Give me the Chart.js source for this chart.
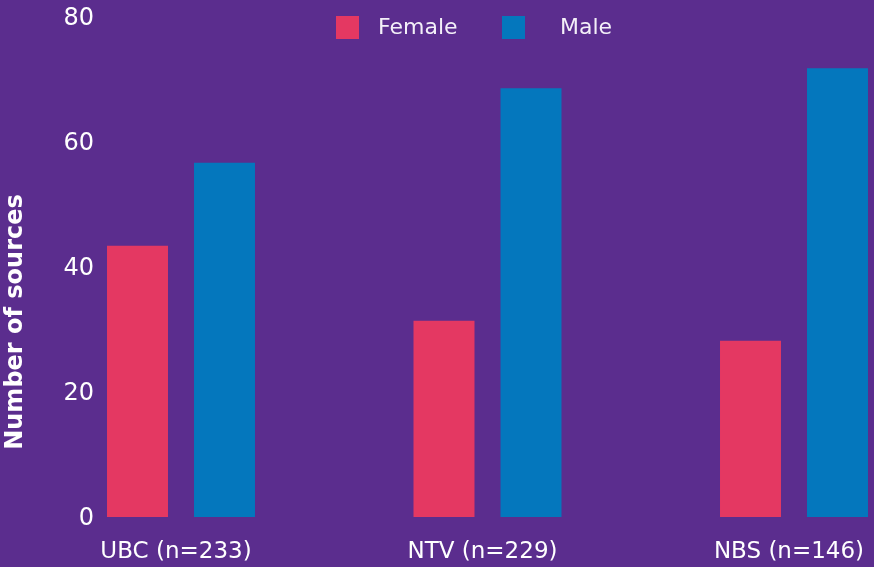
<!DOCTYPE html>
<html>
<head>
<meta charset="utf-8">
<script src="https://cdn.jsdelivr.net/npm/chart.js@4"></script>
<style>
  html, body { margin: 0; padding: 0; background: #5b2d8e; }
  #chart { display: block; }
</style>
</head>
<body>
<canvas id="chart" width="874" height="567"></canvas>
<script>
// Chart data
const categories = ['UBC (n=233)', 'NTV (n=229)', 'NBS (n=146)'];
const seriesNames = ['Female', 'Male'];
const femaleValues = [43.4, 31.4, 28.2];
const maleValues = [56.7, 68.6, 71.8];
const yTicks = [0, 20, 40, 60, 80];
const yTitle = 'Number of sources';

const colors = ['#e43862', '#0477bd'];
const textColor = '#ffffff';
const fontFamily = '"DejaVu Sans", sans-serif';

// ==============================
// Legend row at the top (drawn by hand so spacing matches)
// ==============================
const legendRow = {
  id: 'legendRow',
  afterDraw(chart) {
    const ctx = chart.ctx;
    const boxX = [336, 502];
    const textX = [378, 560];
    ctx.save();
    ctx.font = '22px ' + fontFamily;
    ctx.textBaseline = 'middle';
    chart.data.datasets.forEach((ds, i) => {
      ctx.fillStyle = ds.backgroundColor;
      ctx.fillRect(boxX[i], 16, 23, 23);
      ctx.fillStyle = '#f3eff8';
      ctx.fillText(ds.label, textX[i], 28);
    });
    ctx.restore();
  }
};

// ==============================
// Rotated y axis title
// ==============================
const sideTitle = {
  id: 'sideTitle',
  afterDraw(chart) {
    const ctx = chart.ctx;
    ctx.save();
    ctx.translate(16, 322);
    ctx.rotate(-Math.PI / 2);
    ctx.font = 'bold 24px ' + fontFamily;
    ctx.fillStyle = textColor;
    ctx.textAlign = 'center';
    ctx.textBaseline = 'middle';
    ctx.fillText(yTitle, 0, 0);
    ctx.restore();
  }
};

const ctx = document.getElementById('chart').getContext('2d');
new Chart(ctx, {
  type: 'bar',
  data: {
    labels: categories,
    datasets: [
      { label: seriesNames[0], data: femaleValues, backgroundColor: colors[0] },
      { label: seriesNames[1], data: maleValues, backgroundColor: colors[1] }
    ].map(ds => Object.assign(ds, {
      barPercentage: 0.701,
      categoryPercentage: 0.5677,
      clip: false
    }))
  },
  options: {
    responsive: false,
    animation: false,
    layout: { padding: { top: 17, right: 80, bottom: 3, left: 0 } },
    plugins: {
      legend: { display: false },
      tooltip: { enabled: false }
    },
    scales: {
      x: {
        offset: false,
        grid: { display: false, drawTicks: false },
        border: { display: false },
        ticks: {
          color: textColor,
          font: { family: fontFamily, size: 23 },
          padding: 21,
          labelOffset: -5,
          maxRotation: 0,
          autoSkip: false
        },
        // tick padding would otherwise widen the margins
        afterFit: s => {
          s.height = 47;
          s.paddingLeft = 0;
          s.paddingRight = 76;
        }
      },
      y: {
        min: 0,
        max: 80,
        grid: { display: false, drawTicks: false },
        border: { display: false },
        ticks: {
          color: textColor,
          font: { family: fontFamily, size: 24 },
          padding: 87,
          labelOffset: 2
        },
        afterBuildTicks: s => { s.ticks = yTicks.map(v => ({ value: v })); },
        afterFit: s => {
          s.width = 181;
          s.paddingTop = 14;
          s.paddingBottom = 14;
        }
      }
    }
  },
  plugins: [legendRow, sideTitle]
});
</script>
</body>
</html>
